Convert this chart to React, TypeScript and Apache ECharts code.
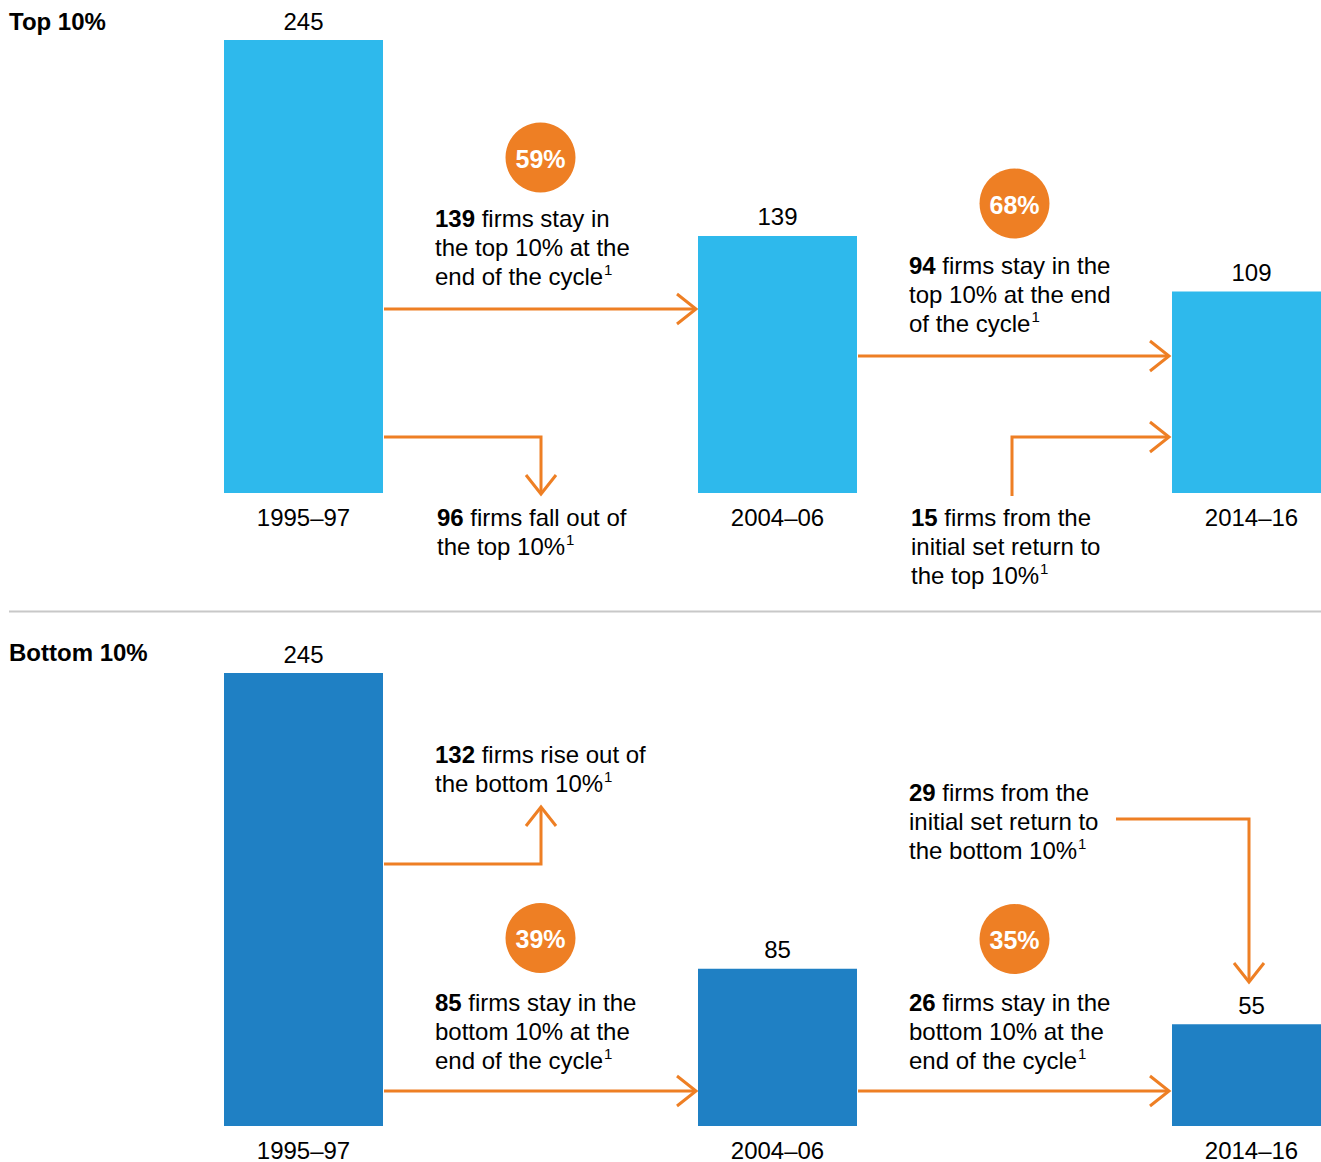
import React, { useEffect, useRef } from 'react';
import * as echarts from 'echarts';

const categories = ['1995–97', '2004–06', '2014–16'];
const topCounts = [245, 139, 109];
const bottomCounts = [245, 85, 55];
const panelTitles = ['Top 10%', 'Bottom 10%'];
const retentionRates = ['59%', '68%', '39%', '35%'];
const noteBold = ['139', '96', '94', '15', '132', '29', '85', '26'];
const noteTexts = [
  ' firms stay in\nthe top 10% at the\nend of the cycle',
  ' firms fall out of\nthe top 10%',
  ' firms stay in the\ntop 10% at the end\nof the cycle',
  ' firms from the\ninitial set return to\nthe top 10%',
  ' firms rise out of\nthe bottom 10%',
  ' firms from the\ninitial set return to\nthe bottom 10%',
  ' firms stay in the\nbottom 10% at the\nend of the cycle',
  ' firms stay in the\nbottom 10% at the\nend of the cycle',
];

const FONT = '"Liberation Sans", Arial, Helvetica, sans-serif';
const ORANGE = '#EE7F24';
const TOP_BLUE = '#2EB9EC';
const BOTTOM_BLUE = '#1F80C4';
const LH = 28.6;

function arrow(pts: number[][]) {
  const n = pts.length;
  const [tx, ty] = pts[n - 1];
  const [px, py] = pts[n - 2];
  const dx = tx - px;
  const dy = ty - py;
  const len = Math.hypot(dx, dy);
  const ux = dx / len;
  const uy = dy / len;
  const back = 19;
  const spread = 15;
  const a = [tx - ux * back - uy * spread, ty - uy * back + ux * spread];
  const b = [tx - ux * back + uy * spread, ty - uy * back - ux * spread];
  return [
    { type: 'polyline', silent: true, shape: { points: pts }, style: { stroke: ORANGE, lineWidth: 3, fill: null, lineJoin: 'miter' } },
    { type: 'polyline', silent: true, shape: { points: [a, [tx, ty], b] }, style: { stroke: ORANGE, lineWidth: 3, fill: null, lineJoin: 'miter' } },
  ];
}

function note(x: number, yFirstCenter: number, bold: string, rest: string) {
  return {
    type: 'text',
    silent: true,
    x,
    y: yFirstCenter - LH / 2,
    style: {
      text: `{b|${bold}}${rest}{s|1}`,
      fill: '#000',
      fontSize: 24,
      fontFamily: FONT,
      lineHeight: LH,
      align: 'left',
      verticalAlign: 'top',
      rich: {
        b: { fontWeight: 'bold', fontSize: 24, fontFamily: FONT, lineHeight: LH, fill: '#000' },
        s: { fontSize: 15, fontFamily: FONT, lineHeight: 19, verticalAlign: 'top', fill: '#000', padding: [0, 0, 0, 1] },
      },
    },
  };
}

function badge(cx: number, cy: number, text: string) {
  return [
    { type: 'circle', silent: true, shape: { cx, cy, r: 35 }, style: { fill: ORANGE } },
    {
      type: 'text', silent: true, x: cx, y: cy + 1,
      style: { text, fill: '#fff', fontSize: 25, fontWeight: 'bold', fontFamily: FONT, align: 'center', verticalAlign: 'middle' },
    },
  ];
}

export default function App() {
  const ref = useRef<HTMLDivElement>(null);
  useEffect(() => {
    if (!ref.current) return;
    const chart = echarts.init(ref.current, null, { renderer: 'svg' });
    const axisX = (i: number) => ({
      type: 'category',
      gridIndex: i,
      data: categories,
      axisLine: { show: false },
      axisTick: { show: false },
      axisLabel: { fontSize: 24, color: '#000', fontFamily: FONT, margin: 12 },
    });
    const axisY = (i: number) => ({
      type: 'value', gridIndex: i, min: 0, max: 245, show: false, splitLine: { show: false },
    });
    const barSeries = (i: number, data: number[], color: string) => ({
      type: 'bar',
      xAxisIndex: i,
      yAxisIndex: i,
      data,
      barWidth: 159,
      itemStyle: { color },
      label: { show: true, position: 'top', distance: 7, fontSize: 24, color: '#000', fontFamily: FONT },
    });

    const graphics: any[] = [
      { type: 'text', silent: true, x: 9, y: 21, style: { text: panelTitles[0], fill: '#000', fontSize: 24, fontWeight: 'bold', fontFamily: FONT, verticalAlign: 'middle' } },
      { type: 'text', silent: true, x: 9, y: 652, style: { text: panelTitles[1], fill: '#000', fontSize: 24, fontWeight: 'bold', fontFamily: FONT, verticalAlign: 'middle' } },
      { type: 'line', silent: true, shape: { x1: 9, y1: 611.5, x2: 1321, y2: 611.5 }, style: { stroke: '#C8C8C8', lineWidth: 2 } },
      ...arrow([[384, 309], [696, 309]]),
      ...arrow([[384, 437], [541, 437], [541, 494]]),
      ...arrow([[858, 356], [1169, 356]]),
      ...arrow([[1012, 496], [1012, 437], [1169, 437]]),
      ...arrow([[384, 864], [541, 864], [541, 807]]),
      ...arrow([[384, 1091], [696, 1091]]),
      ...arrow([[858, 1091], [1169, 1091]]),
      ...arrow([[1116, 819], [1249, 819], [1249, 982]]),
      ...badge(540.5, 157.5, retentionRates[0]),
      ...badge(1014.5, 203.5, retentionRates[1]),
      ...badge(540.5, 938, retentionRates[2]),
      ...badge(1014.5, 939, retentionRates[3]),
      note(435, 219, noteBold[0], noteTexts[0]),
      note(437, 518, noteBold[1], noteTexts[1]),
      note(909, 266, noteBold[2], noteTexts[2]),
      note(911, 518, noteBold[3], noteTexts[3]),
      note(435, 755, noteBold[4], noteTexts[4]),
      note(909, 793, noteBold[5], noteTexts[5]),
      note(435, 1003, noteBold[6], noteTexts[6]),
      note(909, 1003, noteBold[7], noteTexts[7]),
    ];

    chart.setOption({
      animation: false,
      backgroundColor: '#fff',
      textStyle: { fontFamily: FONT },
      grid: [
        { left: 66.5, top: 40, width: 1422, height: 453, outerBoundsMode: 'none', containLabel: false },
        { left: 66.5, top: 673, width: 1422, height: 453, outerBoundsMode: 'none', containLabel: false },
      ],
      xAxis: [axisX(0), axisX(1)],
      yAxis: [axisY(0), axisY(1)],
      series: [barSeries(0, topCounts, TOP_BLUE), barSeries(1, bottomCounts, BOTTOM_BLUE)],
      graphic: graphics,
    });
    return () => chart.dispose();
  }, []);
  return <div ref={ref} style={{ position: 'absolute', left: 0, top: 0, width: 1321, height: 1162 }} />;
}
